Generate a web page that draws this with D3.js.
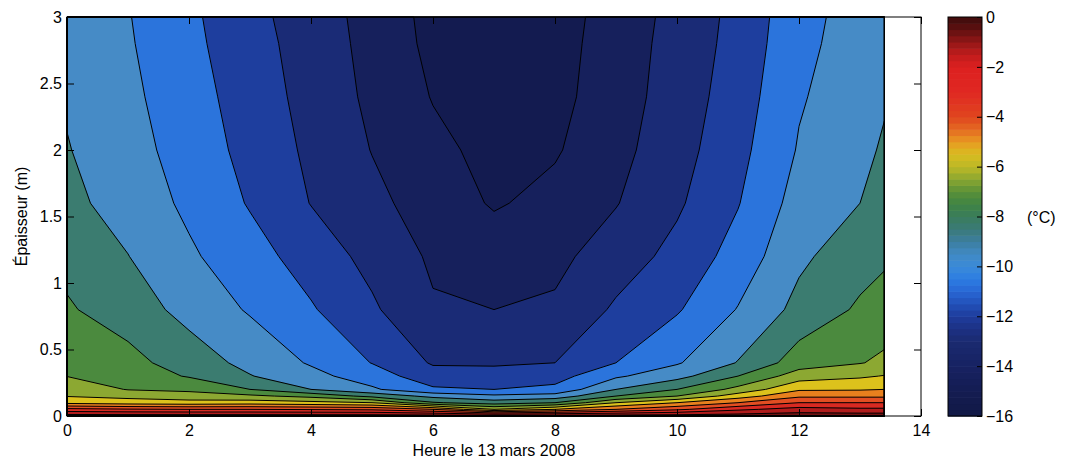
<!DOCTYPE html>
<html>
<head>
<meta charset="utf-8">
<script src="https://cdn.jsdelivr.net/npm/d3@7"></script>
<style>
  body { margin: 0; background: #fff; }
  text { font-family: "Liberation Sans", Arial, Helvetica, sans-serif; fill: #000; }
</style>
</head>
<body>
<svg id="chart" width="1067" height="462"></svg>
<script>
// Measurement times (hours) and sensor depths in the ice (m, from the bottom up)
const hours  = [0, 1, 2, 3, 4, 5, 6, 7, 8, 9, 10, 11, 12, 13, 13.4];
const depths = [0, 0.05, 0.1, 0.15, 0.2, 0.3, 0.4, 0.8, 1.2, 1.6, 2.0, 2.4, 2.8, 3.0];

// Temperature profiles (°C), one per time, listed bottom (0 m) to top (3 m)
const t00h = [-0.5, -2.7, -5.3, -6.05, -6.35, -7.02, -7.15, -7.9, -8.25, -8.75, -8.95, -9.1, -9.25, -9.3];
const t01h = [-0.5, -2.9, -5.5, -6.3, -7.05, -7.45, -7.7, -8.45, -8.98, -9.4, -9.6, -9.77, -9.9, -9.95];
const t02h = [-0.5, -3.0, -5.6, -6.6, -7.2, -8.08, -8.45, -9.35, -9.85, -10.2, -10.45, -10.6, -10.75, -10.8];
const t03h = [-0.5, -3.0, -5.5, -6.8, -8.0, -8.95, -9.3, -10.1, -10.6, -11.08, -11.3, -11.45, -11.6, -11.7];
const t04h = [-0.5, -3.1, -5.7, -7.3, -9.0, -9.7, -10.1, -10.9, -11.45, -12.03, -12.2, -12.35, -12.45, -12.5];
const t05h = [-0.5, -3.2, -6.0, -8.3, -9.85, -10.5, -11.03, -11.85, -12.3, -12.75, -13.03, -13.2, -13.3, -13.35];
const t06h = [-0.5, -4.0, -7.9, -9.3, -10.85, -11.6, -12.1, -12.9, -13.15, -13.45, -13.75, -14.05, -14.25, -14.3];
const t07h = [-0.5, -6.0, -8.5, -9.8, -11.0, -11.7, -12.1, -13.0, -13.45, -14.1, -14.3, -14.5, -14.65, -14.7];
const t08h = [-0.5, -5.0, -8.0, -9.6, -10.75, -11.4, -12.0, -12.85, -13.25, -13.7, -14.1, -14.3, -14.4, -14.45];
const t09h = [-0.5, -4.0, -6.0, -8.0, -9.0, -10.15, -11.0, -11.85, -12.5, -13.05, -13.3, -13.45, -13.5, -13.55];
const t10h = [-0.5, -3.2, -5.0, -7.0, -8.0, -9.35, -10.1, -11.1, -11.7, -12.15, -12.4, -12.55, -12.65, -12.7];
const t11h = [-0.5, -2.2, -4.0, -5.5, -6.7, -8.0, -8.95, -9.95, -10.6, -11.05, -11.3, -11.5, -11.65, -11.7];
const t12h = [-0.4, -1.6, -3.0, -4.2, -5.15, -6.5, -7.5, -8.7, -9.2, -9.6, -9.92, -10.1, -10.28, -10.35];
const t13h = [-0.4, -1.8, -3.0, -4.2, -5.1, -6.15, -7.05, -7.85, -8.4, -9.0, -9.25, -9.4, -9.52, -9.57];
const t13h24 = [-0.4, -1.8, -3.0, -4.2, -5.0, -5.95, -6.8, -7.6, -8.15, -8.55, -8.88, -9.1, -9.25, -9.3];

const profiles = [t00h, t01h, t02h, t03h, t04h, t05h, t06h, t07h, t08h, t09h, t10h, t11h, t12h, t13h, t13h24];

// Contour levels (°C) and axis ticks
const levels = [-16, -15, -14, -13, -12, -11, -10, -9, -8, -7, -6, -5, -4, -3, -2, -1];
const xTicks = [0, 2, 4, 6, 8, 10, 12, 14];
const yTicks = [0, 0.5, 1, 1.5, 2, 2.5, 3];
const cbTicks = [-16, -14, -12, -10, -8, -6, -4, -2, 0];

// Fill colour of each band [level, level + 1]
const bandColors = ["#121a4c", "#131b50", "#16205c", "#1a2b76", "#1e3e9e", "#2b74dc",
                    "#468bc6", "#3b7c70", "#4b8a3e", "#8ca832", "#dcc21c", "#e8801e",
                    "#e24e22", "#d82a22", "#b01c1c", "#701212"];
// Colour bar palette stops
const paletteValues = [-16, -15, -14, -13, -12.5, -12, -11.5, -11, -10.5, -10, -9.5, -9, -8.5, -8,
                       -7.5, -7, -6.5, -6, -5.5, -5, -4.5, -4, -3, -2, -1.5, -1, -0.5, 0];
const paletteColors = ["#111845", "#141c52", "#172262", "#1a2a70", "#1c3184", "#1e3c9c", "#2250b8",
                       "#2866d4", "#2c7ce2", "#3a8ad8", "#418ac4", "#3c7ea0", "#3a7a78", "#3a7c5c",
                       "#3f8444", "#5a9038", "#8aa630", "#bcb826", "#d8bc20", "#e89a22", "#e46a22",
                       "#e0461f", "#e02822", "#dc2020", "#c01c1c", "#921616", "#601010", "#3c0c0c"];

const svg = d3.select("#chart");
const plot = { left: 67, right: 921, top: 17, bottom: 416 };
const cb = { left: 948, right: 982 };

const x = d3.scaleLinear().domain([0, 14]).range([plot.left, plot.right]);
const y = d3.scaleLinear().domain([0, 3]).range([plot.bottom, plot.top]);

// Grid values, row-major: row = depth index, column = time index
const nx = hours.length, ny = depths.length;
const grid = [];
for (let j = 0; j < ny; j++) for (let i = 0; i < nx; i++) grid.push(profiles[i][j]);

// d3.contours puts sample k at grid coordinate k + 0.5; map back onto the irregular axes
function gridToData(c, arr) {
  const u = Math.max(0, Math.min(arr.length - 1, c - 0.5));
  const k = Math.min(arr.length - 2, Math.floor(u));
  return arr[k] + (u - k) * (arr[k + 1] - arr[k]);
}
const projection = d3.geoTransform({
  point(px, py) { this.stream.point(x(gridToData(px, hours)), y(gridToData(py, depths))); }
});
const path = d3.geoPath(projection);

const contours = d3.contours().size([nx, ny]).thresholds(levels)(grid);

const fills = svg.append("g");
fills.selectAll("path").data(contours).join("path")
  .attr("d", path)
  .attr("fill", d => bandColors[levels.indexOf(d.value)])
  .attr("fill-rule", "evenodd")
  .attr("stroke", d => bandColors[levels.indexOf(d.value)])
  .attr("stroke-width", 0.4);

const lines = svg.append("g");
lines.selectAll("path").data(contours).join("path")
  .attr("d", path)
  .attr("fill", "none")
  .attr("stroke", "#000")
  .attr("stroke-width", 1)
  .attr("stroke-linejoin", "round");

// Axes box with inward ticks on all four sides
const tickLen = 7;
const axB = svg.append("g").attr("transform", `translate(0,${plot.bottom})`)
  .call(d3.axisBottom(x).tickValues(xTicks).tickFormat(d3.format("d")).tickSizeInner(-tickLen).tickSizeOuter(0).tickPadding(9));
const axT = svg.append("g").attr("transform", `translate(0,${plot.top})`)
  .call(d3.axisTop(x).tickValues(xTicks).tickFormat("").tickSizeInner(-tickLen).tickSizeOuter(0));
const axL = svg.append("g").attr("transform", `translate(${plot.left},0)`)
  .call(d3.axisLeft(y).tickValues(yTicks).tickFormat(d3.format("~g")).tickSizeInner(-tickLen).tickSizeOuter(0).tickPadding(5));
const axR = svg.append("g").attr("transform", `translate(${plot.right},0)`)
  .call(d3.axisRight(y).tickValues(yTicks).tickFormat("").tickSizeInner(-tickLen).tickSizeOuter(0));
[axB, axT, axL, axR].forEach(g => {
  g.select(".domain").remove();
  g.selectAll(".tick line").attr("stroke", "#000").attr("stroke-width", 1);
  g.selectAll(".tick text").attr("font-size", 16).attr("font-family", "Liberation Sans, Arial, sans-serif");
});
svg.append("rect")
  .attr("x", plot.left).attr("y", plot.top)
  .attr("width", plot.right - plot.left).attr("height", plot.bottom - plot.top)
  .attr("fill", "none").attr("stroke", "#000").attr("stroke-width", 1);

// Axis titles
svg.append("text")
  .attr("x", (plot.left + plot.right) / 2).attr("y", 456)
  .attr("text-anchor", "middle").attr("font-size", 16)
  .text("Heure le 13 mars 2008");
svg.append("text")
  .attr("transform", `translate(27,${(plot.top + plot.bottom) / 2}) rotate(-90)`)
  .attr("text-anchor", "middle").attr("font-size", 16)
  .text("Épaisseur (m)");

// Colour bar
const cbY = d3.scaleLinear().domain([-16, 0]).range([plot.bottom, plot.top]);
const palette = d3.scaleLinear().domain(paletteValues).range(paletteColors).interpolate(d3.interpolateRgb);
const steps = d3.range(64);
const stepH = (plot.bottom - plot.top) / 64;
svg.append("g").selectAll("rect").data(steps).join("rect")
  .attr("x", cb.left)
  .attr("y", k => cbY(-16 + (k + 1) * 0.25))
  .attr("width", cb.right - cb.left)
  .attr("height", stepH + 0.6)
  .attr("fill", k => palette(-16 + (k + 0.5) * 0.25));
const axC = svg.append("g").attr("transform", `translate(${cb.right},0)`)
  .call(d3.axisRight(cbY).tickValues(cbTicks).tickSizeInner(-5).tickSizeOuter(0).tickPadding(4));
axC.select(".domain").remove();
axC.selectAll(".tick line").attr("stroke", "#000");
axC.selectAll(".tick text").attr("font-size", 16).attr("font-family", "Liberation Sans, Arial, sans-serif");
svg.append("rect")
  .attr("x", cb.left).attr("y", plot.top)
  .attr("width", cb.right - cb.left).attr("height", plot.bottom - plot.top)
  .attr("fill", "none").attr("stroke", "#000").attr("stroke-width", 1);
svg.append("text")
  .attr("x", 1027).attr("y", cbY(-8) + 6)
  .attr("font-size", 16)
  .text("(°C)");
</script>
</body>
</html>
